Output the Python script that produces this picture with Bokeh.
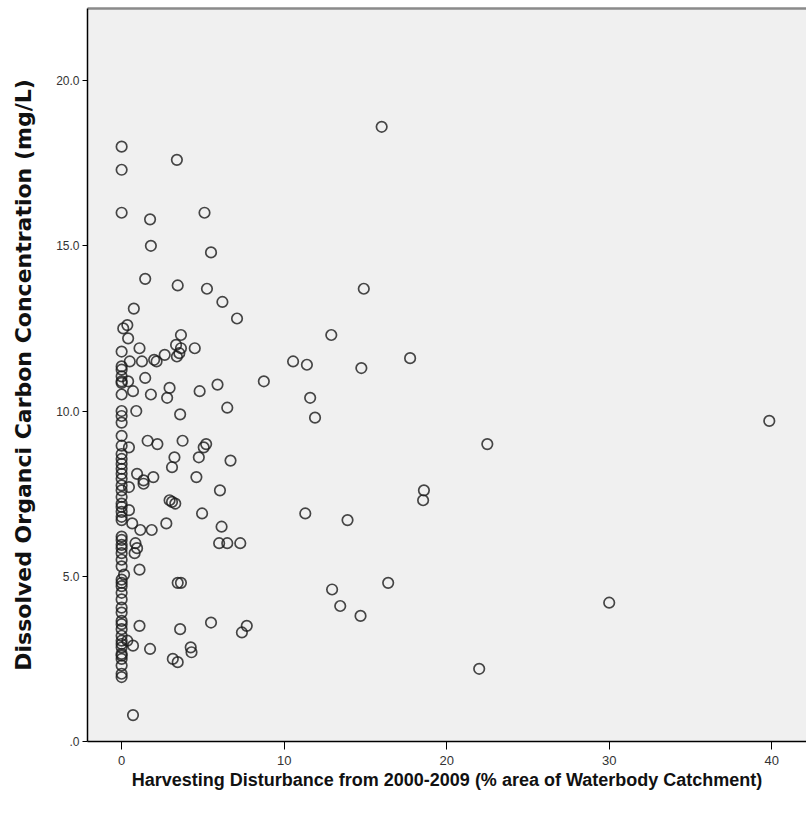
from bokeh.plotting import figure
from bokeh.models import ColumnDataSource, LinearAxis, FixedTicker
from bokeh.embed import file_html
from bokeh.resources import INLINE

# Harvesting disturbance (% of catchment area, 2000-2009) per waterbody
harvest_pct = [
    0, 0, 0, 3.4, 16.0, 5.1, 1.75, 1.8, 5.5, 1.45, 3.45, 5.25, 14.9, 6.2, 0.75, 7.1,
    0.1, 0.35, 0.4, 3.65, 1.1, 3.35, 3.65, 3.55, 3.4, 4.5, 0, 2.65, 2.0, 2.15, 1.25, 0.5,
    0, 0, 0, 0, 0, 0.4, 1.45, 0.7, 0, 1.8, 2.95, 2.8, 4.8, 5.9, 6.5, 0, 0, 0.9, 3.6,
    8.75, 10.55, 11.4, 12.9, 14.75, 17.75, 11.6, 11.9, 22.5, 39.85,
    0, 0, 0, 0.45, 0, 0, 0, 0, 0, 0, 0, 0, 0, 0, 0, 0, 0, 0, 0.45, 0.45,
    1.6, 2.2, 3.75, 5.2, 5.05, 4.75, 3.25, 3.1, 6.7, 0.95, 1.35, 1.35, 1.95, 4.6, 6.05,
    2.95, 3.1, 3.3, 4.95, 0.65, 1.15, 1.85, 2.75, 6.15,
    18.6, 18.55, 11.3, 13.9,
    0, 0, 0, 0.85, 0.95, 0.8, 6.0, 6.5, 7.3,
    1.1, 3.45, 3.65, 12.95, 16.4, 13.45, 14.7, 22.0, 30.0,
    0, 0, 0, 0.15, 0, 0, 0, 0, 0, 0, 0, 0, 0, 0, 0, 0, 0, 0, 0, 0,
    0, 0, 0, 0, 0,
    0.35, 0.7, 1.1, 1.75, 3.6, 5.5, 4.25, 4.3, 3.15, 3.45, 7.4, 7.7, 0.7,
]

# Dissolved organic carbon concentration (mg/L) for the same waterbodies
doc_mg_l = [
    18.0, 17.3, 16.0, 17.6, 18.6, 16.0, 15.8, 15.0, 14.8, 14.0, 13.8, 13.7, 13.7, 13.3, 13.1, 12.8,
    12.5, 12.6, 12.2, 12.3, 11.9, 12.0, 11.9, 11.75, 11.65, 11.9, 11.8, 11.7, 11.55, 11.5, 11.5, 11.5,
    11.35, 11.25, 11.05, 10.9, 10.85, 10.9, 11.0, 10.6, 10.5, 10.5, 10.7, 10.4, 10.6, 10.8, 10.1, 10.0, 9.85, 10.0, 9.9,
    10.9, 11.5, 11.4, 12.3, 11.3, 11.6, 10.4, 9.8, 9.0, 9.7,
    9.65, 9.25, 8.95, 8.9, 8.7, 8.55, 8.4, 8.25, 8.1, 7.95, 7.75, 7.6, 7.4, 7.2, 7.1, 6.95, 6.8, 6.7, 7.7, 7.0,
    9.1, 9.0, 9.1, 9.0, 8.9, 8.6, 8.6, 8.3, 8.5, 8.1, 7.9, 7.8, 8.0, 8.0, 7.6,
    7.3, 7.25, 7.2, 6.9, 6.6, 6.4, 6.4, 6.6, 6.5,
    7.6, 7.3, 6.9, 6.7,
    6.2, 6.1, 5.95, 6.0, 5.85, 5.7, 6.0, 6.0, 6.0,
    5.2, 4.8, 4.8, 4.6, 4.8, 4.1, 3.8, 2.2, 4.2,
    5.7, 5.5, 5.3, 5.05, 4.9, 4.7, 4.5, 4.3, 4.05, 3.9, 3.65, 3.4, 3.2, 3.05, 2.85, 2.65, 2.5, 2.3, 2.05, 1.95,
    5.85, 4.8, 3.55, 2.95, 2.6,
    3.05, 2.9, 3.5, 2.8, 3.4, 3.6, 2.85, 2.7, 2.5, 2.4, 3.3, 3.5, 0.8,
]

x_ticks = [0, 10, 20, 30, 40]
y_ticks = [0, 5, 10, 15, 20]
y_tick_labels = {0: ".0", 5: "5.0", 10: "10.0", 15: "15.0", 20: "20.0"}

source = ColumnDataSource(data=dict(x=harvest_pct, y=doc_mg_l))

p = figure(
    width=806, height=819,
    x_range=(-2.1, 42.14), y_range=(0, 22.18),
    output_backend="svg", toolbar_location=None,
    min_border_left=87, min_border_right=0, min_border_top=8, min_border_bottom=78,
)
p.background_fill_color = "#f0f0f0"
p.border_fill_color = "white"
p.outline_line_color = None
p.grid.visible = False

p.scatter("x", "y", source=source, marker="circle", size=10.5,
          fill_color=None, line_color="#1a1a1a", line_alpha=0.8, line_width=1.7)

label_font = "Liberation Sans"

xa = p.xaxis[0]
xa.ticker = FixedTicker(ticks=x_ticks)
xa.axis_line_color = "black"
xa.axis_line_width = 1.5
xa.major_tick_out = 8
xa.major_tick_in = 0
xa.minor_tick_out = 0
xa.minor_tick_in = 0
xa.major_tick_line_color = "black"
xa.major_label_text_font = label_font
xa.major_label_text_font_size = "13px"
xa.major_label_text_color = "#333333"
xa.major_label_standoff = 6
xa.axis_label = "Harvesting Disturbance from 2000-2009 (% area of Waterbody Catchment)"
xa.axis_label_text_font = label_font
xa.axis_label_text_font_style = "bold"
xa.axis_label_text_font_size = "18px"
xa.axis_label_text_color = "#111111"
xa.axis_label_standoff = 2

ya = p.yaxis[0]
ya.ticker = FixedTicker(ticks=y_ticks)
ya.major_label_overrides = y_tick_labels
ya.axis_line_color = "black"
ya.axis_line_width = 1.5
ya.major_tick_out = 5
ya.major_tick_in = 0
ya.minor_tick_out = 0
ya.minor_tick_in = 0
ya.major_label_text_font = label_font
ya.major_label_text_font_size = "12px"
ya.major_label_text_color = "#333333"
ya.major_label_standoff = 3
ya.axis_label = "Dissolved Organci Carbon Concentration (mg/L)"
ya.axis_label_text_font = "DejaVu Sans"
ya.axis_label_text_font_style = "bold"
ya.axis_label_text_font_size = "22px"
ya.axis_label_text_color = "#111111"
ya.axis_label_standoff = 17

# plain gray rule along the top of the plotting area
top = LinearAxis(ticker=FixedTicker(ticks=[]))
top.axis_line_color = "#8a8a8a"
top.axis_line_width = 2.5
top.major_tick_out = 0
top.major_tick_in = 0
top.minor_tick_out = 0
top.minor_tick_in = 0
top.major_label_text_font_size = "0px"
top.major_label_standoff = 0
p.add_layout(top, "above")

open("out.html", "w").write(file_html(p, INLINE))
